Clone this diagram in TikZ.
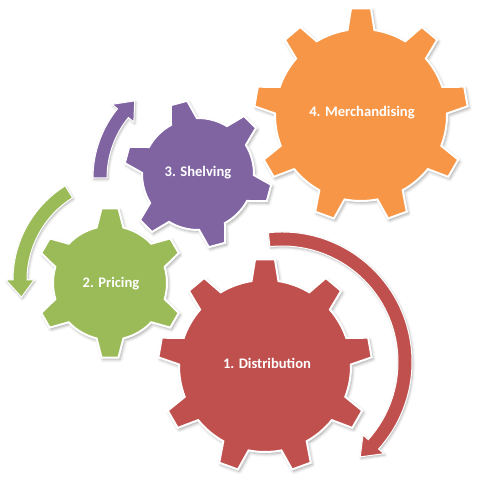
\documentclass[tikz,border=0pt]{standalone}
\usepackage{fontspec}
\setmainfont{Carlito}
\usetikzlibrary{shadows.blur}
\definecolor{redc}{HTML}{C0504D}
\definecolor{greenc}{HTML}{9BBB59}
\definecolor{purplec}{HTML}{8064A2}
\definecolor{orangec}{HTML}{F79646}
\tikzset{
  gearbody/.style={draw=white, line width=2pt, line join=miter,
    blur shadow={shadow xshift=1.5pt, shadow yshift=-2pt, shadow blur radius=3pt, shadow opacity=35}},
  arrowbody/.style={draw=white, line width=1pt,
    blur shadow={shadow xshift=1pt, shadow yshift=-1.5pt, shadow blur radius=2.5pt, shadow opacity=30}},
  lbl/.style={text=white, font=\fontsize{14.6}{16}\selectfont\bfseries, inner sep=0pt}
}
% #1 style, #2 center, #3 teeth, #4 offset, #5 body r, #6 outer r, #7 half base angle, #8 half tip angle
\newcommand\mygear[8]{%
  \begin{scope}[shift={#2}]
  \path[#1] ({#4-#7}:#5pt) \foreach \gi in {1,...,#3} {
     -- ({#4+(\gi-1)*360/#3-#7}:#5pt) -- ({#4+(\gi-1)*360/#3-#8}:#6pt)
     -- ({#4+(\gi-1)*360/#3+#8}:#6pt) -- ({#4+(\gi-1)*360/#3+#7}:#5pt)
     arc[start angle={#4+(\gi-1)*360/#3+#7}, end angle={#4+\gi*360/#3-#7}, radius=#5pt] } -- cycle;
  \end{scope}}
\begin{document}
\begin{tikzpicture}[x=1pt,y=1pt]
\useasboundingbox (0,0) rectangle (479,480);
% gears
\mygear{gearbody, fill=orangec}{(361,365)}{9}{90}{86}{107}{9}{5.35}
\mygear{gearbody, fill=purplec}{(198,306)}{6}{105}{56}{74}{13.8}{6.6}
\mygear{gearbody, fill=greenc}{(110,197)}{6}{90}{57}{75}{13.6}{6.5}
\mygear{gearbody, fill=redc}{(265,114)}{9}{90}{86}{107}{9}{5.35}
% arrows
\begin{scope}[shift={(282,118)}]
  \path[arrowbody, fill=redc] (96:130pt) arc[start angle=96, end angle=-42, radius=130pt]
    -- (-42:137pt) -- (-50.5:123pt) -- (-42:109pt) -- (-42:116pt)
    arc[start angle=-42, end angle=96, radius=116pt] -- cycle;
\end{scope}
\begin{scope}[shift={(203,302)}]
  \path[arrowbody, fill=purplec] (180:110pt) arc[start angle=180, end angle=141, radius=110pt]
    -- (141:117pt) -- (131.5:103pt) -- (141:89pt) -- (141:96pt)
    arc[start angle=141, end angle=180, radius=96pt] -- cycle;
\end{scope}
\begin{scope}[shift={(124,200)}]
  \path[arrowbody, fill=greenc] (122:111pt) arc[start angle=122, end angle=180, radius=111pt]
    -- (180:118pt) -- (189.5:104pt) -- (180:90pt) -- (180:97pt)
    arc[start angle=180, end angle=122, radius=97pt] -- cycle;
\end{scope}
% labels
\node[lbl] (dist) at (267,117) {1. Distribution};
\node[lbl] (pric) at (111,196) {2. Pricing};
\node[lbl] (shel) at (198,307) {3. Shelving};
\node[lbl] (merc) at (362,367) {4. Merchandising};
\end{tikzpicture}
\end{document}
